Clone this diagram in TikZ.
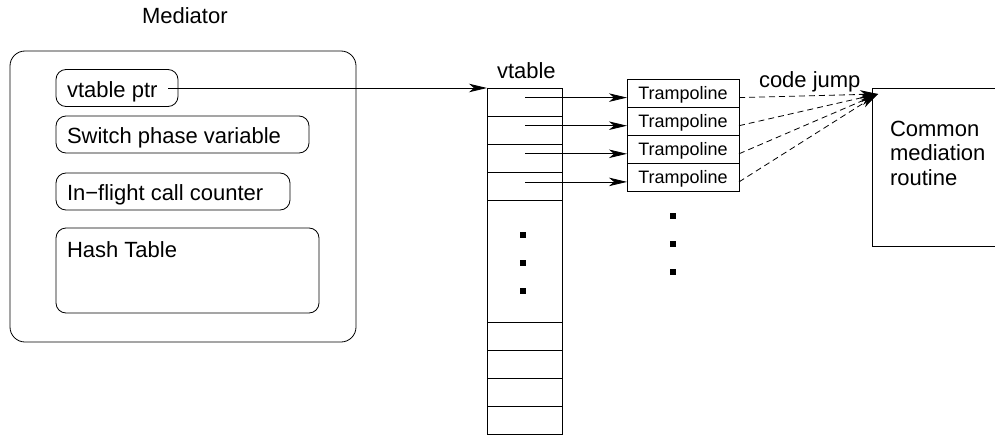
\documentclass[tikz,border=0pt]{standalone}
\usepackage{fontspec}
\setmainfont{Liberation Sans}
\usetikzlibrary{arrows.meta}
\begin{document}
\begin{tikzpicture}[x=1pt,y=-1pt,
  line width=0.8pt,
  every node/.style={inner sep=0pt,outer sep=0pt},
  txt/.style={anchor=base west,font=\fontsize{22}{26}\selectfont},
  rbox/.style={draw,rounded corners=10pt,anchor=north west},
  cell/.style={draw,line width=1pt,anchor=north west,minimum width=75pt},
  tramp/.style={draw,minimum width=112pt,minimum height=28pt,font=\fontsize{18}{20}\selectfont,text height=13pt,text depth=1pt},
  arr/.style={-{Stealth[length=18pt,width=8.5pt,inset=5pt]}},
  dsh/.style={dash pattern=on 6pt off 4pt},
  dotsq/.style={fill,minimum size=6pt}]

\useasboundingbox (0,0) rectangle (995,436);

% Mediator
\node[txt] (medlabel) at (142,23.3) {Mediator};
\node[draw,rounded corners=15pt,anchor=north west,minimum width=346pt,minimum height=291pt] (med) at (10,51) {};
\node[rbox,minimum width=122pt,minimum height=37pt] (ptr) at (56,69.5) {};
\node[txt] (ptrt) at (67,97.3) {vtable ptr};
\node[rbox,minimum width=253pt,minimum height=37pt] (sw) at (56,116) {};
\node[txt] (swt) at (67,143) {Switch phase variable};
\node[rbox,minimum width=234pt,minimum height=37pt] (inf) at (56,173) {};
\node[txt] (inft) at (67,200.5) {In−flight call counter};
\node[rbox,minimum width=263pt,minimum height=85pt] (hash) at (56,228) {};
\node[txt] (hasht) at (67,257) {Hash Table};

% vtable
\node[txt] (vtl) at (497,78.3) {vtable};
\node[cell,minimum height=28.2pt] (v1) at (487,88) {};
\node[cell,minimum height=28.2pt] (v2) at (487,116.2) {};
\node[cell,minimum height=28.2pt] (v3) at (487,144.4) {};
\node[cell,minimum height=28.2pt] (v4) at (487,172.6) {};
\node[cell,minimum height=121.2pt] (vd) at (487,200.8) {};
\node[cell,minimum height=28pt] (v5) at (487,322) {};
\node[cell,minimum height=28pt] (v6) at (487,350) {};
\node[cell,minimum height=28pt] (v7) at (487,378) {};
\node[cell,minimum height=28pt] (v8) at (487,406) {};
\node[dotsq] (vd1) at (523,235) {};
\node[dotsq] (vd2) at (523,263) {};
\node[dotsq] (vd3) at (523,291) {};

% pointer arrow
\coordinate (ptrsrc) at (168,88);
\draw[arr] (ptrsrc) -- (v1.north west);

% trampolines
\node[tramp] (t1) at (683,93) {Trampoline};
\node[tramp] (t2) at (683,121) {Trampoline};
\node[tramp] (t3) at (683,149) {Trampoline};
\node[tramp] (t4) at (683,177) {Trampoline};
\node[dotsq] (td1) at (673,216) {};
\node[dotsq] (td2) at (673,244) {};
\node[dotsq] (td3) at (673,272) {};

\coordinate (s1) at (525,97.6);
\coordinate (s2) at (525,125.7);
\coordinate (s3) at (525,153.8);
\coordinate (s4) at (525,181.9);
\draw[arr] (s1) -- (s1 -| t1.west);
\draw[arr] (s2) -- (s2 -| t2.west);
\draw[arr] (s3) -- (s3 -| t3.west);
\draw[arr] (s4) -- (s4 -| t4.west);

% common mediation routine
\node[anchor=north west,minimum width=123pt,minimum height=158.5pt] (cmr) at (872,88) {};
\draw (cmr.north east) -- (cmr.north west) -- (cmr.south west) -- (cmr.south east);
\node[txt] (cm1) at (890,136) {Common};
\node[txt] (cm2) at (890,160.5) {mediation};
\node[txt] (cm3) at (890,185) {routine};

% code jumps
\node[txt] (cj) at (759,87) {code jump};
\coordinate (tip) at (878,94);
\draw[arr,dsh] (s1 -| t1.east) -- (tip);
\draw[arr,dsh] (s2 -| t2.east) -- (tip);
\draw[arr,dsh] (s3 -| t3.east) -- (tip);
\draw[arr,dsh] (s4 -| t4.east) -- (tip);
\end{tikzpicture}
\end{document}
